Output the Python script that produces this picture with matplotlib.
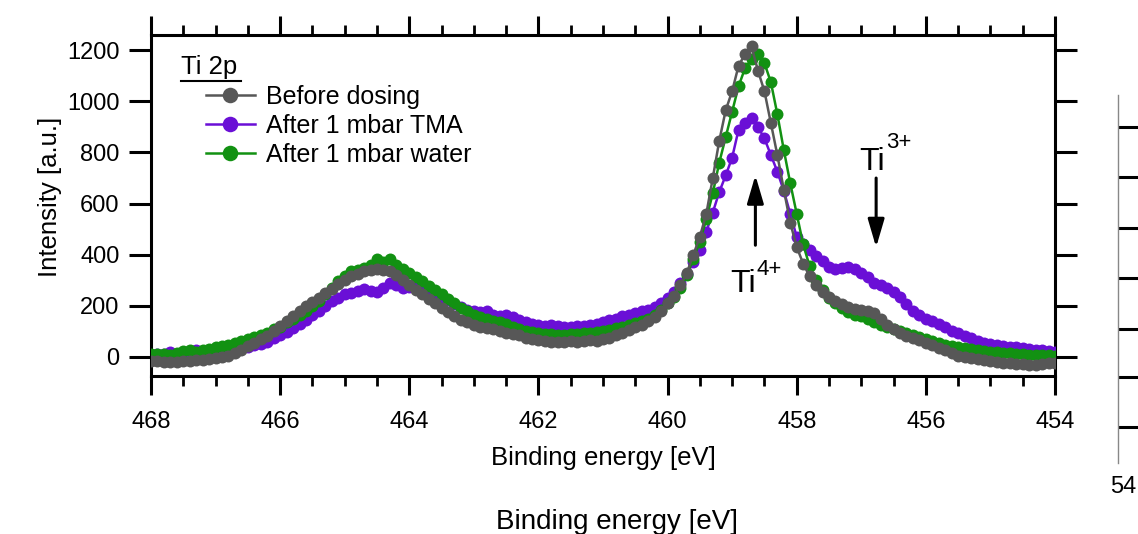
import numpy as np
import matplotlib
matplotlib.use("Agg")
import matplotlib.pyplot as plt
from matplotlib.ticker import MultipleLocator

plt.rcParams['font.family'] = ['Liberation Sans', 'DejaVu Sans']

# ---------------- data (binding energy from 468.0 to 454.0 eV, 0.1 eV step) -------------
energy_start = 468.0
energy_step = 0.1

before_dosing = [
    -15, -18, -20, -22, -20, -18, -15, -14, -12, -10,
    -6, 0, 5, 15, 28, 42, 55, 68, 82, 100,
    120, 140, 160, 180, 200, 215, 232, 250, 265, 285,
    300, 315, 325, 335, 340, 345, 340, 335, 320, 300,
    282, 262, 245, 228, 210, 192, 175, 160, 145, 135,
    125, 118, 112, 108, 100, 95, 90, 85, 75, 68,
    65, 62, 60, 60, 58, 62, 60, 62, 65, 62,
    68, 75, 85, 95, 105, 115, 125, 140, 155, 180,
    210, 240, 280, 330, 400, 470, 560, 700, 845, 965,
    1040, 1140, 1185, 1215, 1120, 1040, 915, 790, 655, 525,
    430, 365, 315, 280, 255, 235, 220, 205, 195, 188,
    183, 178, 170, 150, 125, 108, 92, 80, 72, 65,
    55, 45, 35, 25, 15, 5, 0, -5, -10, -13,
    -16, -20, -24, -26, -28, -28, -30, -30, -28, -26,
    -25,
]

after_tma = [
    5, 10, 12, 20, 10, 5, 18, 28, 15, 10,
    15, 20, 25, 22, 30, 38, 45, 52, 60, 72,
    85, 98, 112, 128, 145, 162, 180, 198, 218, 232,
    245, 250, 258, 265, 258, 255, 270, 290, 280, 268,
    272, 270, 262, 255, 245, 235, 222, 208, 195, 185,
    180, 175, 178, 165, 160, 162, 155, 145, 135, 128,
    125, 122, 125, 122, 115, 118, 120, 122, 125, 128,
    135, 145, 150, 158, 165, 170, 178, 185, 195, 210,
    230, 255, 290, 325, 370, 420, 490, 565, 645, 710,
    780, 890, 915, 935, 900, 855, 790, 725, 650, 560,
    470, 440, 420, 395, 375, 350, 345, 348, 352, 345,
    330, 312, 290, 282, 270, 255, 235, 205, 178, 165,
    150, 140, 128, 115, 102, 92, 80, 72, 62, 55,
    50, 45, 42, 40, 38, 35, 30, 25, 25, 22,
    20,
]

after_water = [
    10, 12, 13, 8, 15, 22, 28, 20, 25, 32,
    38, 42, 48, 55, 62, 70, 78, 85, 95, 108,
    118, 135, 150, 162, 180, 200, 220, 245, 270, 295,
    318, 335, 340, 348, 360, 385, 370, 385, 360, 345,
    330, 312, 295, 278, 262, 245, 228, 210, 192, 178,
    165, 155, 148, 142, 136, 128, 118, 110, 102, 98,
    92, 90, 88, 85, 85, 88, 90, 92, 95, 98,
    100, 105, 112, 118, 125, 132, 140, 150, 165, 185,
    210, 235, 270, 320, 385, 450, 540, 640, 760, 860,
    960, 1060, 1130, 1165, 1185, 1150, 1075, 950, 810, 680,
    560, 440, 355, 300, 260, 232, 210, 190, 175, 165,
    158, 148, 135, 125, 115, 108, 100, 92, 85, 78,
    70, 62, 55, 48, 42, 38, 33, 30, 26, 22,
    20, 18, 15, 14, 12, 10, 8, 8, 7, 6,
    5,
]

series_labels = ["Before dosing", "After 1 mbar TMA", "After 1 mbar water"]
series_colors = ["#575757", "#6a0fd6", "#129112"]

x_ticks = [468, 466, 464, 462, 460, 458, 456, 454]
y_ticks = [0, 200, 400, 600, 800, 1000, 1200]

energy = energy_start - energy_step * np.arange(len(before_dosing))

# ---------------- figure ----------------
W, H = 1138, 534
fig = plt.figure(figsize=(W / 100, H / 100), dpi=100)

def fx(px):
    return px / W

def fy(py):
    return 1 - py / H

ax = fig.add_axes([fx(151), fy(376), fx(1055) - fx(151), fy(35) - fy(376)])

series = [before_dosing, after_tma, after_water]
zorders = [5, 3, 4]
for vals, lab, col, z in zip(series, series_labels, series_colors, zorders):
    ax.plot(energy, vals, '-o', color=col, ms=8.6, lw=1.8, label=lab, zorder=z,
            markeredgewidth=0)

ax.set_xlim(468, 454)
ax.set_ylim(-75, 1260)
ax.set_xticks(x_ticks)
ax.set_yticks(y_ticks)
ax.xaxis.set_minor_locator(MultipleLocator(0.5))

for s in ax.spines.values():
    s.set_linewidth(2.2)

ax.tick_params(axis='x', which='major', direction='out', length=13.5, width=2.2,
               top=True, bottom=True, labelsize=17, pad=12)
ax.tick_params(axis='x', which='minor', direction='out', length=7, width=2.0,
               top=True, bottom=True)
ax.tick_params(axis='y', which='major', direction='out', length=15.5, width=2.2,
               left=True, right=True, labelsize=17, pad=7)

ax.set_xlabel("Binding energy [eV]", fontsize=18.5, labelpad=9)
ax.set_ylabel("Intensity [a.u.]", fontsize=18.5)
ax.yaxis.set_label_coords(-0.098, 0.525)

# legend
leg = ax.legend(loc='upper left', bbox_to_anchor=(fx(206), fy(85)),
                bbox_transform=fig.transFigure, frameon=False, fontsize=18,
                handlelength=1.95, handletextpad=0.45, labelspacing=0.2,
                borderpad=0, borderaxespad=0, markerscale=1.3)

# legend title "Ti 2p" underlined
fig.text(fx(181), fy(74), "Ti 2p", fontsize=18.5, ha='left', va='baseline')
fig.add_artist(plt.Line2D([fx(181), fx(241)], [fy(81), fy(81)], color='black', lw=1.5))

# annotations
ax.annotate("", xy=(456.77, 429), xytext=(456.77, 700),
            arrowprops=dict(arrowstyle='-|>,head_length=1.7,head_width=0.5',
                            lw=2.2, color='black', shrinkA=0, shrinkB=0))
ax.annotate("", xy=(458.64, 711), xytext=(458.64, 437),
            arrowprops=dict(arrowstyle='-|>,head_length=1.7,head_width=0.5',
                            lw=2.2, color='black', shrinkA=0, shrinkB=0))
ax.text(457.03, 731, "Ti", fontsize=23, ha='left', va='baseline')
ax.text(456.62, 817, "3+", fontsize=16, ha='left', va='baseline')
ax.text(459.03, 253, "Ti", fontsize=23, ha='left', va='baseline')
ax.text(458.62, 320, "4+", fontsize=16, ha='left', va='baseline')

# stray elements of the source image
fig.text(fx(617), fy(522), "Binding energy [eV]", fontsize=20, ha='center', va='center')

ax2 = fig.add_axes([fx(1118), fy(463), fx(1160) - fx(1118), fy(95) - fy(463)])
ax2.set_xlim(0, 1)
ax2.set_ylim(463, 95)
for k in ['top', 'right', 'bottom']:
    ax2.spines[k].set_visible(False)
ax2.spines['left'].set_color('#888888')
ax2.spines['left'].set_linewidth(1.0)
ax2.set_yticks([127, 177, 228, 278, 329, 377, 427])
ax2.set_yticklabels([])
ax2.set_xticks([])
ax2.tick_params(axis='y', direction='in', length=15, width=2.2)
ax2.patch.set_alpha(0)
fig.text(fx(1136), fy(487), "54", fontsize=17, ha='right', va='center')

fig.savefig("out.png", dpi=100)
